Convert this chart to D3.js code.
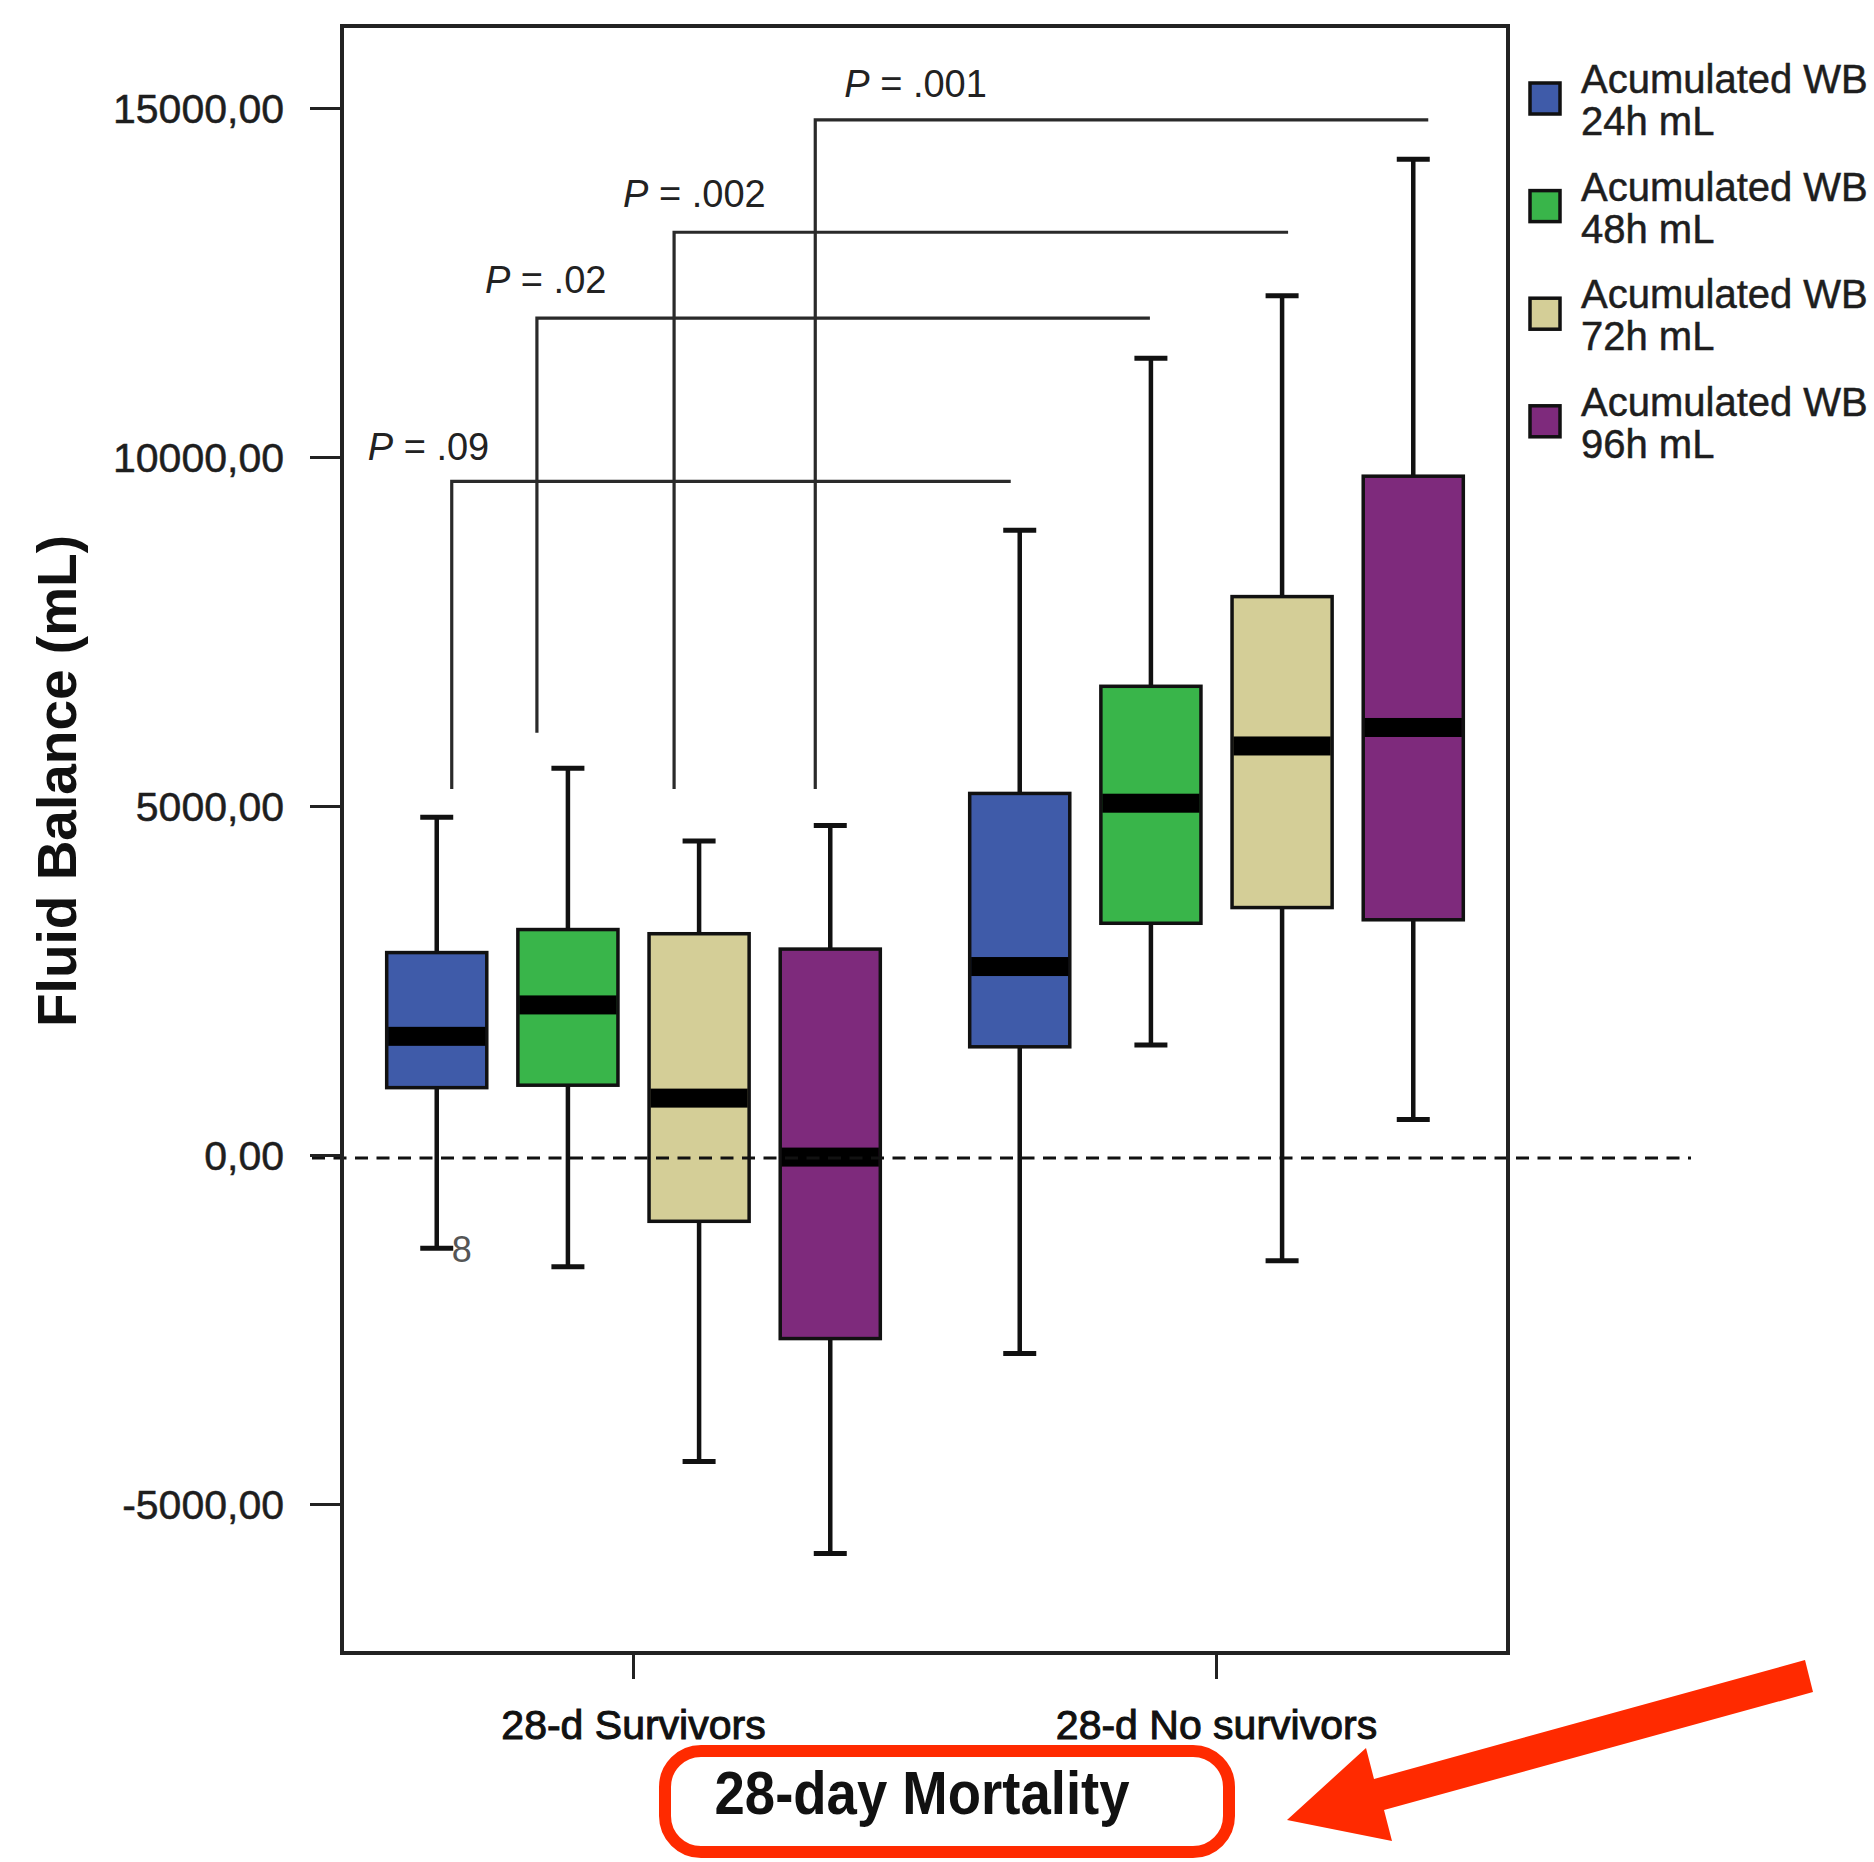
<!DOCTYPE html>
<html>
<head>
<meta charset="utf-8">
<script src="https://cdn.jsdelivr.net/npm/d3@7"></script>
<style>
  html, body { margin: 0; padding: 0; background: #fff; }
  svg { display: block; }
  text { font-family: "Liberation Sans", Arial, sans-serif; }
</style>
</head>
<body>
<svg id="chart" width="1874" height="1862"></svg>
<script>
// ---------------- DATA ----------------
const groups = ["28-d Survivors", "28-d No survivors"];
const seriesKeys = ["24h", "48h", "72h", "96h"];
const legendLine1 = ["Acumulated WB", "Acumulated WB", "Acumulated WB", "Acumulated WB"];
const legendLine2 = ["24h mL", "48h mL", "72h mL", "96h mL"];
const seriesColors = ["#3f5ba9", "#39b54a", "#d4ce97", "#7e2a7c"];

// per group: [24h, 48h, 72h, 96h]
const whiskerLow  = [[-1335, -1600, -4390, -5710], [-2845, 1575, -1515, 510]];
const quartile1   = [[  965,  1000,  -950, -2630], [ 1550, 3320,  3545, 3370]];
const medians     = [[ 1700,  2150,   815,   -30], [ 2700, 5040,  5860, 6125]];
const quartile3   = [[ 2900,  3230,  3170,  2950], [ 5180, 6715,  8000, 9725]];
const whiskerHigh = [[ 4840,  5540,  4500,  4720], [ 8950, 11415, 12310, 14265]];

const yTicks = [15000, 10000, 5000, 0, -5000];
const yTitle = "Fluid Balance (mL)";
const xTitle = "28-day Mortality";

// significance brackets (survivors series i vs no-survivors series i)
const pLabels       = ["= .09", "= .02", "= .002", "= .001"];
const bracketLevels = [9650, 11990, 13220, 14830];
const bracketBases  = [5245, 6050, 5245, 5245];

// outlier case labels
const outlierGroup = [0];
const outlierSeries = [0];
const outlierValue = [-1335];
const outlierText = ["8"];

// ---------------- LAYOUT ----------------
const frame = { left: 342, right: 1508, top: 26, bottom: 1653 };
const bracketLeftDx  = [15, -31, -25, -15];
const bracketRightDx = [-9, -1, 6, 15];
const labelDx = [-84, -52, -51, 29];
const labelDy = [-21, -25, -25, -23];
const arrowPts = [[1805,1660],[1813,1692],[1384,1810],[1392,1841],[1287,1820],[1366,1748],[1374,1779]];

const svg = d3.select("#chart");

const y = d3.scaleLinear().domain([-5000, 15000]).range([1504, 108]);
const xGroup = d3.scaleBand().domain(groups).range([frame.left, frame.right])
  .paddingInner(0.1).paddingOuter(0.05);
const xSeries = d3.scaleBand().domain(seriesKeys).range([0, xGroup.bandwidth()])
  .paddingInner(0.237).paddingOuter(0.1185);

const cx = (g, s) => xGroup(groups[g]) + xSeries(seriesKeys[s]) + xSeries.bandwidth() / 2;
const bw = xSeries.bandwidth();

// ---------------- BOXES ----------------
const boxes = [];
groups.forEach((g, gi) => seriesKeys.forEach((s, si) => boxes.push({ gi, si })));

const capW = 33;
const boxG = svg.append("g");
boxes.forEach(b => {
  const c = cx(b.gi, b.si);
  const g = boxG.append("g");
  g.append("line").attr("x1", c).attr("x2", c)
    .attr("y1", y(whiskerHigh[b.gi][b.si])).attr("y2", y(quartile3[b.gi][b.si]))
    .attr("stroke", "#111").attr("stroke-width", 4.5);
  g.append("line").attr("x1", c).attr("x2", c)
    .attr("y1", y(quartile1[b.gi][b.si])).attr("y2", y(whiskerLow[b.gi][b.si]))
    .attr("stroke", "#111").attr("stroke-width", 4.5);
  [whiskerHigh[b.gi][b.si], whiskerLow[b.gi][b.si]].forEach(v => {
    g.append("line").attr("x1", c - capW / 2).attr("x2", c + capW / 2)
      .attr("y1", y(v)).attr("y2", y(v))
      .attr("stroke", "#111").attr("stroke-width", 5);
  });
  g.append("rect")
    .attr("x", c - bw / 2).attr("width", bw)
    .attr("y", y(quartile3[b.gi][b.si]))
    .attr("height", y(quartile1[b.gi][b.si]) - y(quartile3[b.gi][b.si]))
    .attr("fill", seriesColors[b.si]).attr("stroke", "#111").attr("stroke-width", 3.5);
  g.append("rect")
    .attr("x", c - bw / 2 + 1.5).attr("width", bw - 3)
    .attr("y", y(medians[b.gi][b.si]) - 9.5).attr("height", 19)
    .attr("fill", "#000");
});

// outlier labels
outlierText.forEach((t, i) => {
  svg.append("text")
    .attr("x", cx(outlierGroup[i], outlierSeries[i]) + 15)
    .attr("y", y(outlierValue[i]) + 14)
    .attr("font-size", 36).attr("fill", "#555").text(t);
});

// zero reference line (dashed)
svg.append("line")
  .attr("x1", 312).attr("x2", 1691)
  .attr("y1", y(0) + 3).attr("y2", y(0) + 3)
  .attr("stroke", "#111").attr("stroke-width", 3)
  .attr("stroke-dasharray", "13,8.5");

// ---------------- FRAME & AXES ----------------
svg.append("rect")
  .attr("x", frame.left).attr("y", frame.top)
  .attr("width", frame.right - frame.left).attr("height", frame.bottom - frame.top)
  .attr("fill", "none").attr("stroke", "#222").attr("stroke-width", 4);

const yAxis = svg.append("g").attr("transform", `translate(${frame.left},0)`)
  .call(d3.axisLeft(y).tickValues(yTicks).tickSize(32).tickPadding(26)
    .tickFormat(d => d.toFixed(2).replace(".", ",")));
yAxis.select(".domain").remove();
yAxis.selectAll(".tick line").attr("stroke", "#222").attr("stroke-width", 3);
yAxis.selectAll(".tick text").attr("font-size", 41).attr("fill", "#1e1e1e")
  .attr("font-family", "Liberation Sans, Arial, sans-serif").attr("dy", "0.36em")
  .attr("stroke", "#1e1e1e").attr("stroke-width", 0.5);

const xAxis = svg.append("g").attr("transform", `translate(0,${frame.bottom})`)
  .call(d3.axisBottom(xGroup).tickSize(26));
xAxis.select(".domain").remove();
xAxis.selectAll(".tick line").attr("stroke", "#222").attr("stroke-width", 3);
xAxis.selectAll(".tick text").attr("font-size", 41).attr("fill", "#111")
  .attr("font-family", "Liberation Sans, Arial, sans-serif")
  .attr("y", 86).attr("dy", 0)
  .attr("stroke", "#111").attr("stroke-width", 1);

// y title
svg.append("text")
  .attr("transform", "translate(76,781) rotate(-90)")
  .attr("text-anchor", "middle").attr("font-size", 55).attr("font-weight", "bold")
  .attr("fill", "#111").text(yTitle);

// ---------------- BRACKETS ----------------
const brG = svg.append("g");
pLabels.forEach((p, i) => {
  const xl = cx(0, i) + bracketLeftDx[i];
  const xr = cx(1, i) + bracketRightDx[i];
  const yl = y(bracketLevels[i]);
  brG.append("path")
    .attr("d", `M${xl},${y(bracketBases[i])} L${xl},${yl} L${xr},${yl}`)
    .attr("fill", "none").attr("stroke", "#2a2a2a").attr("stroke-width", 3.2);
  const t = brG.append("text")
    .attr("x", xl + labelDx[i]).attr("y", yl + labelDy[i])
    .attr("font-size", 38).attr("fill", "#222");
  t.append("tspan").attr("font-style", "italic").text("P");
  t.append("tspan").text(" " + p);
});

// ---------------- LEGEND ----------------
const leg = svg.append("g");
seriesKeys.forEach((s, i) => {
  const oy = 81 + i * 107.6;
  leg.append("rect").attr("x", 1530).attr("y", oy + 2).attr("width", 30).attr("height", 31)
    .attr("fill", seriesColors[i]).attr("stroke", "#111").attr("stroke-width", 3.5);
  leg.append("text").attr("x", 1581).attr("y", oy + 12).attr("font-size", 40)
    .attr("fill", "#1e1e1e").attr("stroke", "#1e1e1e").attr("stroke-width", 0.5)
    .text(legendLine1[i]);
  leg.append("text").attr("x", 1581).attr("y", oy + 54).attr("font-size", 40)
    .attr("fill", "#1e1e1e").attr("stroke", "#1e1e1e").attr("stroke-width", 0.5)
    .text(legendLine2[i]);
});

// ---------------- X TITLE ANNOTATION ----------------
svg.append("rect")
  .attr("x", 665).attr("y", 1751).attr("width", 564).attr("height", 101)
  .attr("rx", 36).attr("ry", 36)
  .attr("fill", "#fff").attr("stroke", "#ff2a00").attr("stroke-width", 12);
svg.append("text")
  .attr("x", 922).attr("y", 1814).attr("text-anchor", "middle")
  .attr("font-size", 62).attr("font-weight", "bold").attr("fill", "#111")
  .attr("textLength", 415).attr("lengthAdjust", "spacingAndGlyphs")
  .text(xTitle);

svg.append("polygon")
  .attr("points", arrowPts.map(p => p.join(",")).join(" "))
  .attr("fill", "#ff2a00");
</script>
</body>
</html>
